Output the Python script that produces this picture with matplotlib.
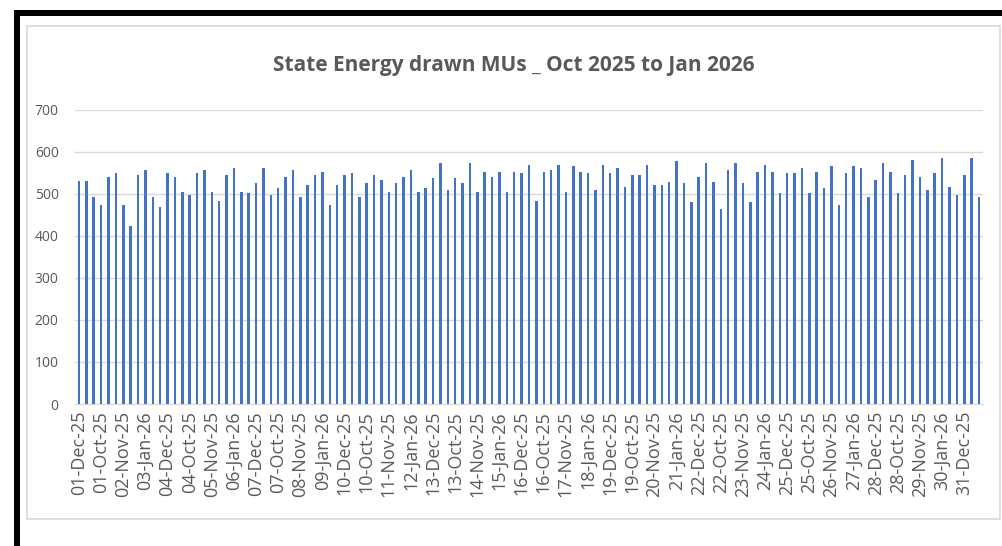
import matplotlib.pyplot as plt
import pandas as pd
from matplotlib.patches import Rectangle

# categories are date strings sorted as plain text (as in the source sheet)
days = pd.date_range("2025-10-01", "2026-01-31", freq="D")
labels = sorted(d.strftime("%d-%b-%y") for d in days)

mus = [
    530, 530, 492, 473, 541, 549, 473, 424, 545, 557,
    492, 469, 549, 541, 505, 497, 549, 557, 505, 484,
    545, 561, 505, 501, 525, 561, 497, 513, 541, 557,
    493, 520, 545, 553, 473, 520, 545, 549, 493, 525,
    545, 533, 505, 525, 541, 557, 505, 513, 537, 573,
    509, 537, 525, 573, 505, 553, 541, 553, 505, 553,
    549, 569, 484, 553, 557, 569, 505, 565, 553, 549,
    509, 569, 549, 561, 517, 545, 545, 569, 520, 520,
    529, 577, 525, 480, 541, 573, 529, 465, 557, 573,
    525, 480, 553, 569, 553, 501, 549, 549, 561, 501,
    553, 513, 565, 473, 549, 565, 561, 493, 533, 573,
    553, 501, 545, 581, 541, 509, 549, 585, 517, 497,
    545, 585, 493,
]

title = "State Energy drawn MUs _ Oct 2025 to Jan 2026"
yticks = [0, 100, 200, 300, 400, 500, 600, 700]

W, H = 1003, 546
fig = plt.figure(figsize=(W / 100, H / 100), dpi=100)
fig.patch.set_facecolor("white")

# screenshot frame: black bands top and left, grey chart-area border
fig.add_artist(Rectangle((14 / W, 1 - 16 / H), 1, 6 / H, transform=fig.transFigure,
                         color="black", lw=0))
fig.add_artist(Rectangle((14 / W, 0), 6 / W, 1 - 10 / H, transform=fig.transFigure,
                         color="black", lw=0))
fig.add_artist(Rectangle((27 / W, 1 - 519 / H), (1000 - 27) / W, (519 - 26) / H,
                         transform=fig.transFigure, fill=False, ec="#D9D9D9", lw=1.2))

ax = fig.add_axes([75.3 / W, 1 - 404 / H, (982.7 - 75.3) / W, (404 - 109.7) / H])
x = range(len(mus))
ax.bar(x, mus, width=0.34, color="#4472C4", zorder=3)

ax.set_xlim(-0.5, len(mus) - 0.5)
ax.set_ylim(0, 700)
ax.set_yticks(yticks)
ax.set_xticks(list(x)[::3])
ax.set_xticklabels(labels[::3], rotation=90)
ax.grid(axis="y", color="#D9D9D9", lw=1, zorder=0)
for s in ["top", "right", "left"]:
    ax.spines[s].set_visible(False)
ax.spines["bottom"].set_color("#D9D9D9")
ax.tick_params(length=0, colors="#595959")
ax.tick_params(axis="x", labelsize=13, pad=5)
ax.tick_params(axis="y", labelsize=10, pad=12)
for t in ax.get_xticklabels() + ax.get_yticklabels():
    t.set_fontfamily("Open Sans")

fig.text(514 / W, 1 - 66 / H, title, ha="center", va="center",
         fontsize=15, color="#595959", fontweight="bold", family="Open Sans")

fig.savefig("out.png", dpi=100)
